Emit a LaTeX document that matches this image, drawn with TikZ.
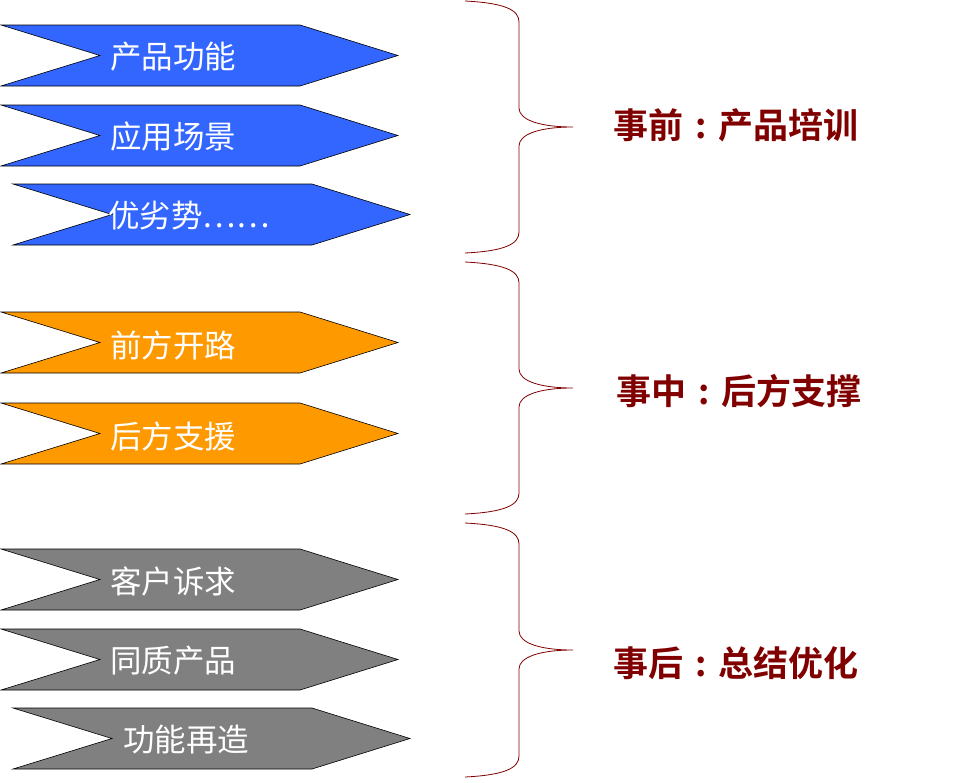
\documentclass[tikz,border=0pt]{standalone}
\usepackage{fontspec}
\setmainfont{Noto Sans CJK SC}
\newfontfamily\cjkb{Noto Sans CJK SC Bold}
\newcommand\fwcolon{\makebox[1em][c]{:}}
\begin{document}
\begin{tikzpicture}[x=1pt,y=-1pt,
  chev/.style={draw=black,line width=0.6pt,line join=miter},
  chevtext/.style={text=white,font=\fontsize{31.5}{33}\selectfont,inner sep=0pt,anchor=west},
  lab/.style={text=labred,font=\cjkb\fontsize{35}{37}\selectfont,inner sep=0pt,anchor=west},
  brace/.style={draw=labred,line width=0.8pt}]
\definecolor{labred}{HTML}{800000}
\definecolor{cblue}{HTML}{3366FF}
\definecolor{corange}{HTML}{FF9900}
\definecolor{cgray}{HTML}{808080}
\useasboundingbox (0,0) rectangle (971,782);
% chevron macro: left x, top y, colour, name
\newcommand\mychev[4]{%
  \fill[#3,chev] (#1,#2) -- ({#1+299},#2) -- ({#1+397},{#2+30.5}) -- ({#1+299},{#2+61}) -- (#1,{#2+61}) -- ({#1+99},{#2+30.5}) -- cycle;
  \node[chevtext] (#4) at ({#1+109},{#2+31}) {};}
\mychev{1}{25}{cblue}{c1}
\mychev{1}{105}{cblue}{c2}
\mychev{13}{184}{cblue}{c3}
\mychev{1}{312}{corange}{c4}
\mychev{1}{403}{corange}{c5}
\mychev{1}{549}{cgray}{c6}
\mychev{1}{629}{cgray}{c7}
\mychev{13}{708}{cgray}{c8}
\node[chevtext] (t1) at (110,57) {产品功能};
\node[chevtext] (t2) at (110,137) {应用场景};
\node[chevtext] (t3) at (108,216) {优劣势……};
\node[chevtext] (t4) at (110,345) {前方开路};
\node[chevtext] (t5) at (110,436) {后方支援};
\node[chevtext] (t6) at (110,581) {客户诉求};
\node[chevtext] (t7) at (110,661) {同质产品};
\node[chevtext] (t8) at (123,740) {功能再造};
% braces
\newcommand\mybrace[3]{%
  \draw[brace] (465,#1) .. controls (505,{#1+2}) and (519,{#1+9}) .. (519,{#1+21})
    -- (519,{#2-19}) .. controls (519,{#2-7}) and (540,#2) .. (573,#2)
    .. controls (540,#2) and (519,{#2+7}) .. (519,{#2+19})
    -- (519,{#3-21}) .. controls (519,{#3-9}) and (505,{#3-2}) .. (465,#3);}
\mybrace{1}{127}{253}
\mybrace{262}{388}{514}
\mybrace{523}{650}{777}
\node[lab] (l1) at (613,125) {事前\fwcolon 产品培训};
\node[lab] (l2) at (616,391) {事中\fwcolon 后方支撑};
\node[lab] (l3) at (613,663) {事后\fwcolon 总结优化};
\end{tikzpicture}
\end{document}
